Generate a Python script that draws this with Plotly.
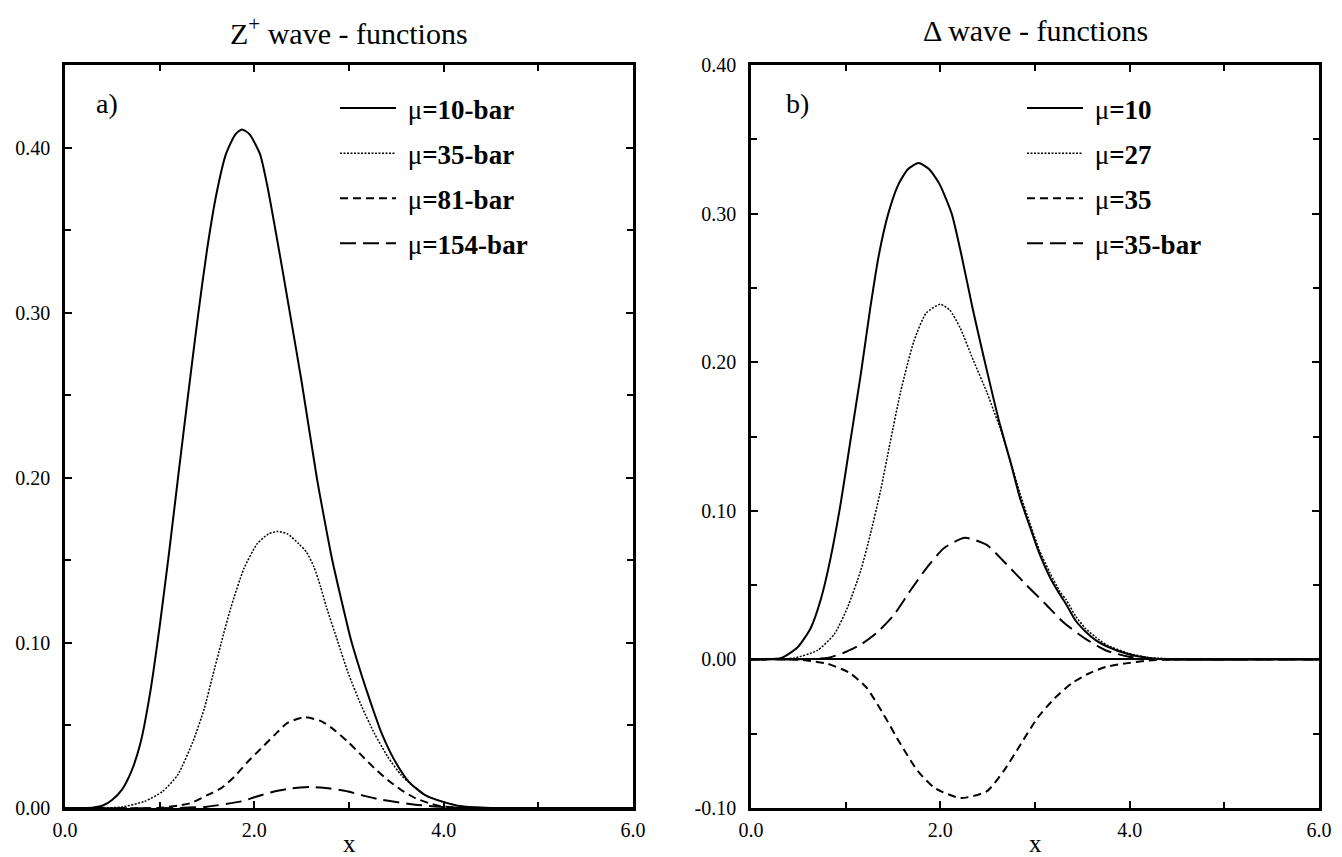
import plotly.graph_objects as go

# ---------------- data ----------------
# panel a) Z+ wave-functions
xa_10 = [0, 0.2, 0.3, 0.4, 0.5, 0.6, 0.7, 0.8, 0.9, 1.0, 1.1, 1.2, 1.3, 1.4, 1.5, 1.6, 1.7, 1.8, 1.87,
         1.95, 2.06, 2.14, 2.22, 2.30, 2.375, 2.50, 2.66, 2.72, 2.82, 2.94, 3.02, 3.13, 3.24, 3.34, 3.48,
         3.63, 3.80, 3.98, 4.19, 4.5, 5.0, 6.0]
ya_10 = [0, 0, 0.0003, 0.0015, 0.005, 0.011, 0.022, 0.040, 0.070, 0.110, 0.155, 0.203, 0.250, 0.296,
         0.338, 0.372, 0.396, 0.408, 0.411, 0.408, 0.396, 0.376, 0.351, 0.325, 0.300, 0.258, 0.200,
         0.181, 0.151, 0.121, 0.102, 0.081, 0.062, 0.046, 0.029, 0.016, 0.008, 0.004, 0.001, 0.0, 0, 0]

xa_35 = [0, 0.4, 0.6, 0.84, 1.03, 1.19, 1.35, 1.47, 1.56, 1.65, 1.75, 1.89, 2.03, 2.15, 2.25, 2.35,
         2.47, 2.55, 2.63, 2.70, 2.76, 2.88, 2.99, 3.13, 3.27, 3.41, 3.55, 3.63, 3.80, 3.98, 4.19, 4.5, 6.0]
ya_35 = [0, 0, 0.0006, 0.004, 0.010, 0.020, 0.040, 0.060, 0.080, 0.100, 0.121, 0.145, 0.160, 0.166,
         0.1675, 0.166, 0.160, 0.155, 0.146, 0.134, 0.122, 0.101, 0.082, 0.062, 0.045, 0.031, 0.020,
         0.0155, 0.008, 0.0038, 0.001, 0, 0]

xa_81 = [0, 0.98, 1.2, 1.33, 1.51, 1.65, 1.79, 1.93, 2.07, 2.21, 2.35, 2.53, 2.71, 2.85, 2.99, 3.13,
         3.27, 3.41, 3.55, 3.70, 3.84, 3.98, 4.2, 4.5, 6.0]
ya_81 = [0, 0, 0.0015, 0.003, 0.008, 0.012, 0.019, 0.028, 0.036, 0.044, 0.0515, 0.055, 0.0525, 0.047,
         0.040, 0.032, 0.024, 0.017, 0.011, 0.006, 0.003, 0.001, 0.0002, 0, 0]

xa_154 = [0, 1.2, 1.5, 1.86, 2.0, 2.21, 2.4, 2.6, 2.8, 2.99, 3.15, 3.34, 3.70, 4.05, 4.4, 6.0]
ya_154 = [0, 0, 0.0008, 0.004, 0.0065, 0.010, 0.012, 0.0127, 0.0118, 0.010, 0.0075, 0.005, 0.002,
          0.0004, 0, 0]

# panel b) Delta wave-functions
xb_10 = [0, 0.14, 0.32, 0.49, 0.63, 0.74, 0.84, 0.95, 1.05, 1.16, 1.26, 1.35, 1.45, 1.56, 1.66, 1.77,
         1.88, 1.99, 2.12, 2.23, 2.34, 2.46, 2.56, 2.63, 2.74, 2.84, 2.95, 3.05, 3.16, 3.26, 3.33, 3.43,
         3.53, 3.64, 3.75, 3.98, 4.2, 4.45, 6.0]
yb_10 = [0, 0, 0.001, 0.008, 0.021, 0.041, 0.068, 0.106, 0.147, 0.192, 0.2365, 0.272, 0.300, 0.320,
         0.330, 0.334, 0.330, 0.320, 0.300, 0.270, 0.2365, 0.203, 0.176, 0.158, 0.133, 0.109, 0.0886,
         0.0706, 0.055, 0.044, 0.037, 0.026, 0.019, 0.013, 0.009, 0.0036, 0.001, 0, 0]

xb_27 = [0, 0.25, 0.46, 0.70, 0.88, 1.02, 1.16, 1.26, 1.37, 1.47, 1.58, 1.72, 1.85, 2.0, 2.10, 2.21,
         2.35, 2.49, 2.56, 2.63, 2.74, 2.84, 2.95, 3.05, 3.16, 3.26, 3.33, 3.43, 3.53, 3.64, 3.75, 3.98,
         4.2, 4.5, 4.8, 6.0]
yb_27 = [0, 0, 0.001, 0.006, 0.017, 0.035, 0.060, 0.084, 0.114, 0.146, 0.180, 0.214, 0.233, 0.239,
         0.235, 0.223, 0.201, 0.180, 0.168, 0.156, 0.134, 0.112, 0.091, 0.073, 0.058, 0.046, 0.040,
         0.029, 0.021, 0.015, 0.010, 0.0042, 0.0013, 0.0002, 0, 0]

xb_35 = [0, 0.4, 0.59, 0.81, 1.04, 1.22, 1.40, 1.58, 1.76, 1.94, 2.215, 2.49, 2.67, 2.85, 3.03, 3.21,
         3.39, 3.57, 3.75, 3.98, 4.2, 4.43, 6.0]
yb_35 = [0, 0, -0.0007, -0.003, -0.009, -0.019, -0.037, -0.057, -0.075, -0.0865, -0.0933, -0.0888,
         -0.075, -0.057, -0.039, -0.026, -0.016, -0.0095, -0.005, -0.0025, -0.0008, 0, 0]

xb_35bar = [0, 0.5, 0.81, 0.98, 1.16, 1.33, 1.51, 1.68, 1.86, 2.04, 2.26, 2.49, 2.70, 2.91, 3.10, 3.30,
            3.53, 3.75, 3.98, 4.2, 4.4, 6.0]
yb_35bar = [0, 0, 0.001, 0.0045, 0.010, 0.018, 0.030, 0.046, 0.062, 0.075, 0.0818, 0.077, 0.064, 0.050,
            0.038, 0.025, 0.014, 0.006, 0.002, 0.0003, 0, 0]

names_a = ["10-bar", "35-bar", "81-bar", "154-bar"]
names_b = ["10", "27", "35", "35-bar"]

x_tickvals = [0, 2, 4, 6]
x_ticktext = ["0.0", "2.0", "4.0", "6.0"]
ya_tickvals = [0.0, 0.1, 0.2, 0.3, 0.4]
ya_ticktext = ["0.00", "0.10", "0.20", "0.30", "0.40"]
yb_tickvals = [-0.1, 0.0, 0.1, 0.2, 0.3, 0.4]
yb_ticktext = ["-0.10", "0.00", "0.10", "0.20", "0.30", "0.40"]

# ---------------- styling ----------------
W, H = 1342, 857
FONT = "Liberation Serif, Times New Roman, serif"
LINE_STYLES = [
    dict(color="black", width=2.0, dash="solid"),
    dict(color="black", width=1.5, dash="2px,1.5px"),
    dict(color="black", width=2.0, dash="8px,5px"),
    dict(color="black", width=2.0, dash="16px,7px"),
]

fig = go.Figure()

series_a = [(xa_10, ya_10), (xa_35, ya_35), (xa_81, ya_81), (xa_154, ya_154)]
series_b = [(xb_10, yb_10), (xb_27, yb_27), (xb_35, yb_35), (xb_35bar, yb_35bar)]


def legend_name(nm):
    return "\u00a0\u03bc<b>=" + nm + "</b>"


for i, ((xs, ys), nm) in enumerate(zip(series_a, names_a)):
    fig.add_trace(go.Scatter(
        x=xs, y=ys, mode="lines", line=dict(**LINE_STYLES[i], shape="spline", smoothing=0.6),
        name=legend_name(nm), xaxis="x", yaxis="y",
        legend="legend", legendgroup="a%d" % i))

for i, ((xs, ys), nm) in enumerate(zip(series_b, names_b)):
    fig.add_trace(go.Scatter(
        x=xs, y=ys, mode="lines", line=dict(**LINE_STYLES[i], shape="spline", smoothing=0.6),
        name=legend_name(nm), xaxis="x2", yaxis="y2",
        legend="legend2", legendgroup="b%d" % i))


def px_x(p):
    return p / W


def px_y(p):
    return 1 - p / H


tickfont = dict(family=FONT, size=20, color="black")


def make_xaxis(domain, anchor):
    return dict(
        domain=domain, anchor=anchor, range=[0, 6],
        tickmode="array", tickvals=x_tickvals, ticktext=x_ticktext,
        ticks="inside", ticklen=7, tickwidth=1.5, tickcolor="black",
        showline=True, linecolor="black", linewidth=2.5, mirror="allticks",
        showgrid=False, zeroline=False,
        minor=dict(ticks="inside", tickmode="linear", tick0=0, dtick=1, ticklen=6,
                   tickwidth=1.5, tickcolor="black", showgrid=False),
        tickfont=tickfont, ticklabelstandoff=2,
        automargin=False, fixedrange=True,
    )


def make_yaxis(domain, anchor, rng, tv, tt, zl):
    return dict(
        domain=domain, anchor=anchor, range=rng,
        tickmode="array", tickvals=tv, ticktext=tt,
        ticks="inside", ticklen=7, tickwidth=1.5, tickcolor="black",
        showline=True, linecolor="black", linewidth=2.5, mirror="allticks",
        showgrid=False, zeroline=zl, zerolinecolor="black", zerolinewidth=1.5,
        minor=dict(ticks="inside", tickmode="linear", tick0=0, dtick=0.05, ticklen=6,
                   tickwidth=1.5, tickcolor="black", showgrid=False),
        tickfont=tickfont, ticklabelstandoff=8,
        automargin=False, fixedrange=True,
    )


ydom = [px_y(800), px_y(57)]
xdom_a = [px_x(57), px_x(625)]
xdom_b = [px_x(743), px_x(1311)]

legend_common = dict(
    xref="paper", yref="paper", xanchor="left", yanchor="top",
    bgcolor="rgba(0,0,0,0)", borderwidth=0,
    font=dict(family=FONT, size=27, color="black"),
    itemwidth=56, tracegroupgap=7, itemclick=False, itemdoubleclick=False,
)

title_font = dict(family=FONT, size=30, color="black")
label_font = dict(family=FONT, size=28, color="black")
xlab_font = dict(family=FONT, size=25, color="black")

fig.update_layout(
    width=W, height=H,
    margin=dict(l=0, r=0, t=0, b=0),
    paper_bgcolor="white", plot_bgcolor="white",
    font=dict(family=FONT, color="black"),
    xaxis=make_xaxis(xdom_a, "y"),
    yaxis=make_yaxis(ydom, "x", [0, 0.45], ya_tickvals, ya_ticktext, False),
    xaxis2=make_xaxis(xdom_b, "y2"),
    yaxis2=make_yaxis(ydom, "x2", [-0.1, 0.4], yb_tickvals, yb_ticktext, True),
    legend=dict(x=px_x(327), y=px_y(76), **legend_common),
    legend2=dict(x=px_x(1014), y=px_y(76), **legend_common),
    showlegend=True,
    annotations=[
        dict(text="Z<sup>+</sup> wave - functions", xref="x domain", yref="paper", x=0.5,
             y=px_y(23), xanchor="center", yanchor="middle", showarrow=False, font=title_font),
        dict(text="\u0394 wave - functions", xref="x2 domain", yref="paper", x=0.5,
             y=px_y(23), xanchor="center", yanchor="middle", showarrow=False, font=title_font),
        dict(text="a)", xref="x domain", yref="paper", x=(86 - 57) / 568, y=px_y(96),
             xanchor="left", yanchor="middle", showarrow=False, font=label_font),
        dict(text="b)", xref="x2 domain", yref="paper", x=(776 - 743) / 568, y=px_y(96),
             xanchor="left", yanchor="middle", showarrow=False, font=label_font),
        dict(text="x", xref="x domain", yref="paper", x=0.5, y=px_y(851),
             xanchor="center", yanchor="bottom", showarrow=False, font=xlab_font),
        dict(text="x", xref="x2 domain", yref="paper", x=0.5, y=px_y(851),
             xanchor="center", yanchor="bottom", showarrow=False, font=xlab_font),
    ],
)

fig.write_html("out.html")
